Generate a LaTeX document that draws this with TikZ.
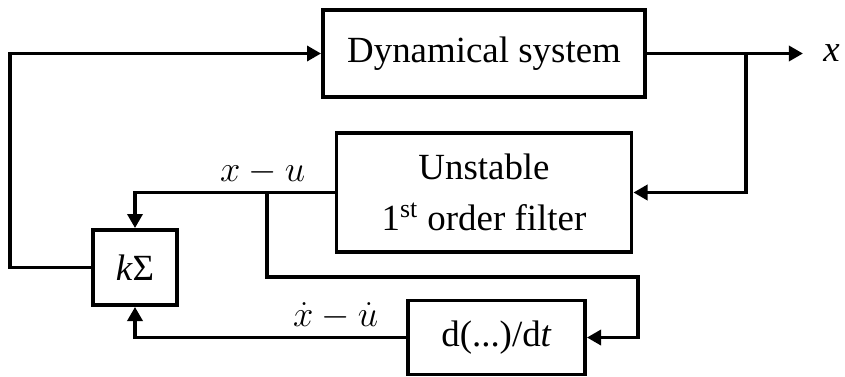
\documentclass[tikz,border=0pt]{standalone}
\usepackage{amsmath}
\usepackage{fontspec}
\setmainfont{Liberation Serif}
\usetikzlibrary{arrows.meta,positioning}

\begin{document}
\begin{tikzpicture}[node distance=2.78cm, font=\fontsize{21}{29}\selectfont]
		\tikzstyle{block} = [rectangle, draw=black, line width=2.2pt, 
		text centered, inner sep=0pt]
		\tikzstyle{arrow} = [line width=2.2pt, -{Triangle[length=8pt,width=8.5pt]}]
		\useasboundingbox (0,0) rectangle (16.9,7.52);
		\node (dynSystem) [block, minimum width=6.44cm, minimum height=1.74cm] at (9.68,6.45) {Dynamical system};
		\node (filter) [block, below of=dynSystem, minimum width=5.9cm, minimum height=2.38cm, 
		align=center] {Unstable\\1\textsuperscript{st} order filter};
		\node (ddt) [block, below of=filter, node distance=2.9cm, xshift=0.25cm, 
		minimum width=3.54cm, minimum height=1.48cm] {d(...)/d\textit{t}};
		\node (ksum) [block, left of=filter, node distance=6.98cm, yshift=-1.5cm, 
		minimum width=1.68cm, minimum height=1.5cm] {\textit{k}Σ};
		\node (xout) [right of=dynSystem, node distance=6.95cm, inner sep=0.4cm] {\textit{x}};
		\coordinate (tapOut) at (14.92,6.45);
		\coordinate (tapFilter) at (5.34,3.67);
		\coordinate (turn) at (12.76,1.98);
		\draw [arrow] (dynSystem) -- (xout);
		\draw [arrow] (tapOut) |- (filter.east);
		\draw [arrow] (filter.west) -| node[pos=0.18, above] (lblDiff) {$x-u$} (ksum.north);
		\draw [arrow] (tapFilter) |- (turn) |- (ddt.east);
		\draw [arrow] (ddt.west) -| node[pos=0.13, above] (lblRate) {$\dot{x}-\dot{u}$} (ksum.south);
		\draw [arrow] (ksum.west) -- ++(-1.62,0) |- (dynSystem.west);
		\end{tikzpicture}
\end{document}
